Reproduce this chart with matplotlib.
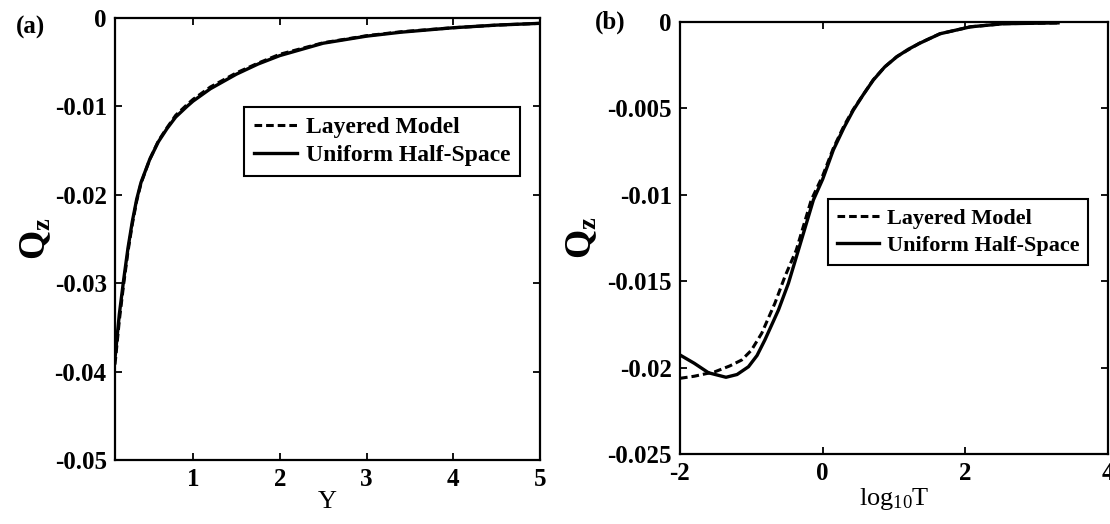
import matplotlib
matplotlib.use("Agg")
import matplotlib.pyplot as plt

plt.rcParams['font.family'] = ['Liberation Serif', 'DejaVu Serif']
plt.rcParams['font.weight'] = 'bold'
plt.rcParams['axes.unicode_minus'] = False
plt.rcParams['mathtext.fontset'] = 'custom'
plt.rcParams['mathtext.rm'] = 'Liberation Serif'
plt.rcParams['mathtext.bf'] = 'Liberation Serif:bold'
plt.rcParams['mathtext.it'] = 'Liberation Serif:italic'

# ---- panel (a): Q_z vs Y ----
y_vals = [0.1, 0.15, 0.2, 0.25, 0.3, 0.35, 0.4, 0.5, 0.6, 0.7, 0.8, 0.93, 1.0,
          1.2, 1.5, 1.75, 2.0, 2.5, 3.0, 3.4, 4.0, 4.5, 5.0]
qa_uniform = [-0.0385, -0.0335, -0.0296, -0.0260, -0.0230, -0.0205, -0.0186, -0.0160,
              -0.0140, -0.0125, -0.0112, -0.0100, -0.0094, -0.0080, -0.00635, -0.0052,
              -0.00425, -0.00285, -0.00205, -0.0016, -0.0011, -0.0008, -0.0006]
qa_layered = [-0.0392, -0.0342, -0.0301, -0.0264, -0.0233, -0.0207, -0.0187, -0.0160,
              -0.0139, -0.0124, -0.0110, -0.0098, -0.0092, -0.0078, -0.0062, -0.0051,
              -0.0041, -0.0028, -0.0020, -0.00155, -0.0011, -0.0008, -0.0006]
a_xticks = [1, 2, 3, 4, 5]
a_yticks = [0, -0.01, -0.02, -0.03, -0.04, -0.05]
a_yticklabels = ['0', '-0.01', '-0.02', '-0.03', '-0.04', '-0.05']

# ---- panel (b): Q_z vs log10 T ----
logt_uniform = [-2, -1.8, -1.6, -1.355, -1.2, -1.04, -0.92, -0.81, -0.62, -0.48, -0.34,
                -0.13, 0, 0.15, 0.3, 0.43, 0.57, 0.71, 0.87, 1.04, 1.2, 1.36, 1.645,
                2.07, 2.53, 3.3]
qb_uniform = [-0.01927, -0.01975, -0.0203, -0.02056, -0.0204, -0.01995, -0.0193, -0.0184,
              -0.01667, -0.01512, -0.0132, -0.0103, -0.0091, -0.0074, -0.0061, -0.0051,
              -0.0042, -0.00336, -0.0026, -0.00201, -0.00158, -0.00123, -0.00068,
              -0.00028, -0.0001, -0.00005]
logt_layered = [-2, -1.8, -1.51, -1.3, -1.135, -1.0, -0.855, -0.67, -0.53, -0.37, -0.16,
                0, 0.15, 0.3, 0.43, 0.57, 0.71, 0.87, 1.04, 1.36, 1.645, 2.07, 2.53, 3.3]
qb_layered = [-0.02062, -0.0205, -0.02024, -0.0199, -0.01956, -0.0190, -0.01802, -0.01628,
              -0.01474, -0.0132, -0.0103, -0.0089, -0.0073, -0.0060, -0.00505, -0.0042,
              -0.00334, -0.0026, -0.0020, -0.00122, -0.00068, -0.00028, -0.0001, -0.00005]
b_xticks = [-2, 0, 2, 4]
b_yticks = [0, -0.005, -0.01, -0.015, -0.02, -0.025]
b_yticklabels = ['0', '-0.005', '-0.01', '-0.015', '-0.02', '-0.025']

labels = ['Layered Model', 'Uniform Half-Space']

fig = plt.figure(figsize=(11.1, 5.24), dpi=100)
ax1 = fig.add_axes([0.1036, 0.1221, 0.3829, 0.8435])
ax2 = fig.add_axes([0.6126, 0.1336, 0.3856, 0.8244])


def style_axes(ax):
    for s in ax.spines.values():
        s.set_linewidth(1.6)
    ax.tick_params(direction='in', top=True, right=True, length=5, width=1.3,
                   labelsize=18, pad=6)
    for lab in ax.get_xticklabels() + ax.get_yticklabels():
        lab.set_fontweight('bold')


# panel (a)
l1, = ax1.plot(y_vals, qa_layered, color='black', lw=2.2, linestyle='--')
l1.set_dashes((2.5, 1.3))
ax1.plot(y_vals, qa_uniform, color='black', lw=2.4)
ax1.set_xlim(0.1, 5)
ax1.set_ylim(-0.05, 0)
ax1.set_xticks(a_xticks)
ax1.set_yticks(a_yticks)
ax1.set_yticklabels(a_yticklabels)
style_axes(ax1)
ax1.set_xlabel('Y', fontsize=19, fontweight='normal')
ax1.xaxis.set_label_coords(0.5, -0.07)
ax1.set_ylabel(r'$\mathbf{Q_z}$', fontsize=27)
ax1.yaxis.set_label_coords(-0.145, 0.5)
leg1 = ax1.legend(labels, loc='upper left', bbox_to_anchor=(0.304, 0.799),
                  borderaxespad=0, fancybox=False, edgecolor='black', framealpha=1,
                  prop={'family': 'Liberation Serif', 'weight': 'bold', 'size': 17},
                  handlelength=1.85, handletextpad=0.35, labelspacing=0.3, borderpad=0.4)
leg1.get_frame().set_linewidth(1.5)

# panel (b)
l2, = ax2.plot(logt_layered, qb_layered, color='black', lw=2.2, linestyle='--')
l2.set_dashes((2.5, 1.3))
ax2.plot(logt_uniform, qb_uniform, color='black', lw=2.4)
ax2.set_xlim(-2, 4)
ax2.set_ylim(-0.025, 0)
ax2.set_xticks(b_xticks)
ax2.set_yticks(b_yticks)
ax2.set_yticklabels(b_yticklabels)
style_axes(ax2)
ax2.set_xlabel(r'$\mathregular{log_{10}T}$', fontsize=19)
ax2.xaxis.set_label_coords(0.5, -0.075)
ax2.set_ylabel(r'$\mathbf{Q_z}$', fontsize=27)
ax2.yaxis.set_label_coords(-0.19, 0.5)
leg2 = ax2.legend(labels, loc='upper left', bbox_to_anchor=(0.346, 0.59),
                  borderaxespad=0, fancybox=False, edgecolor='black', framealpha=1,
                  prop={'family': 'Liberation Serif', 'weight': 'bold', 'size': 16},
                  handlelength=1.9, handletextpad=0.35, labelspacing=0.3, borderpad=0.4)
leg2.get_frame().set_linewidth(1.5)

fig.text(0.014, 0.947, '(a)', fontsize=18, fontweight='bold', va='center')
fig.text(0.536, 0.958, '(b)', fontsize=18, fontweight='bold', va='center')

fig.savefig('out.png', dpi=100)
